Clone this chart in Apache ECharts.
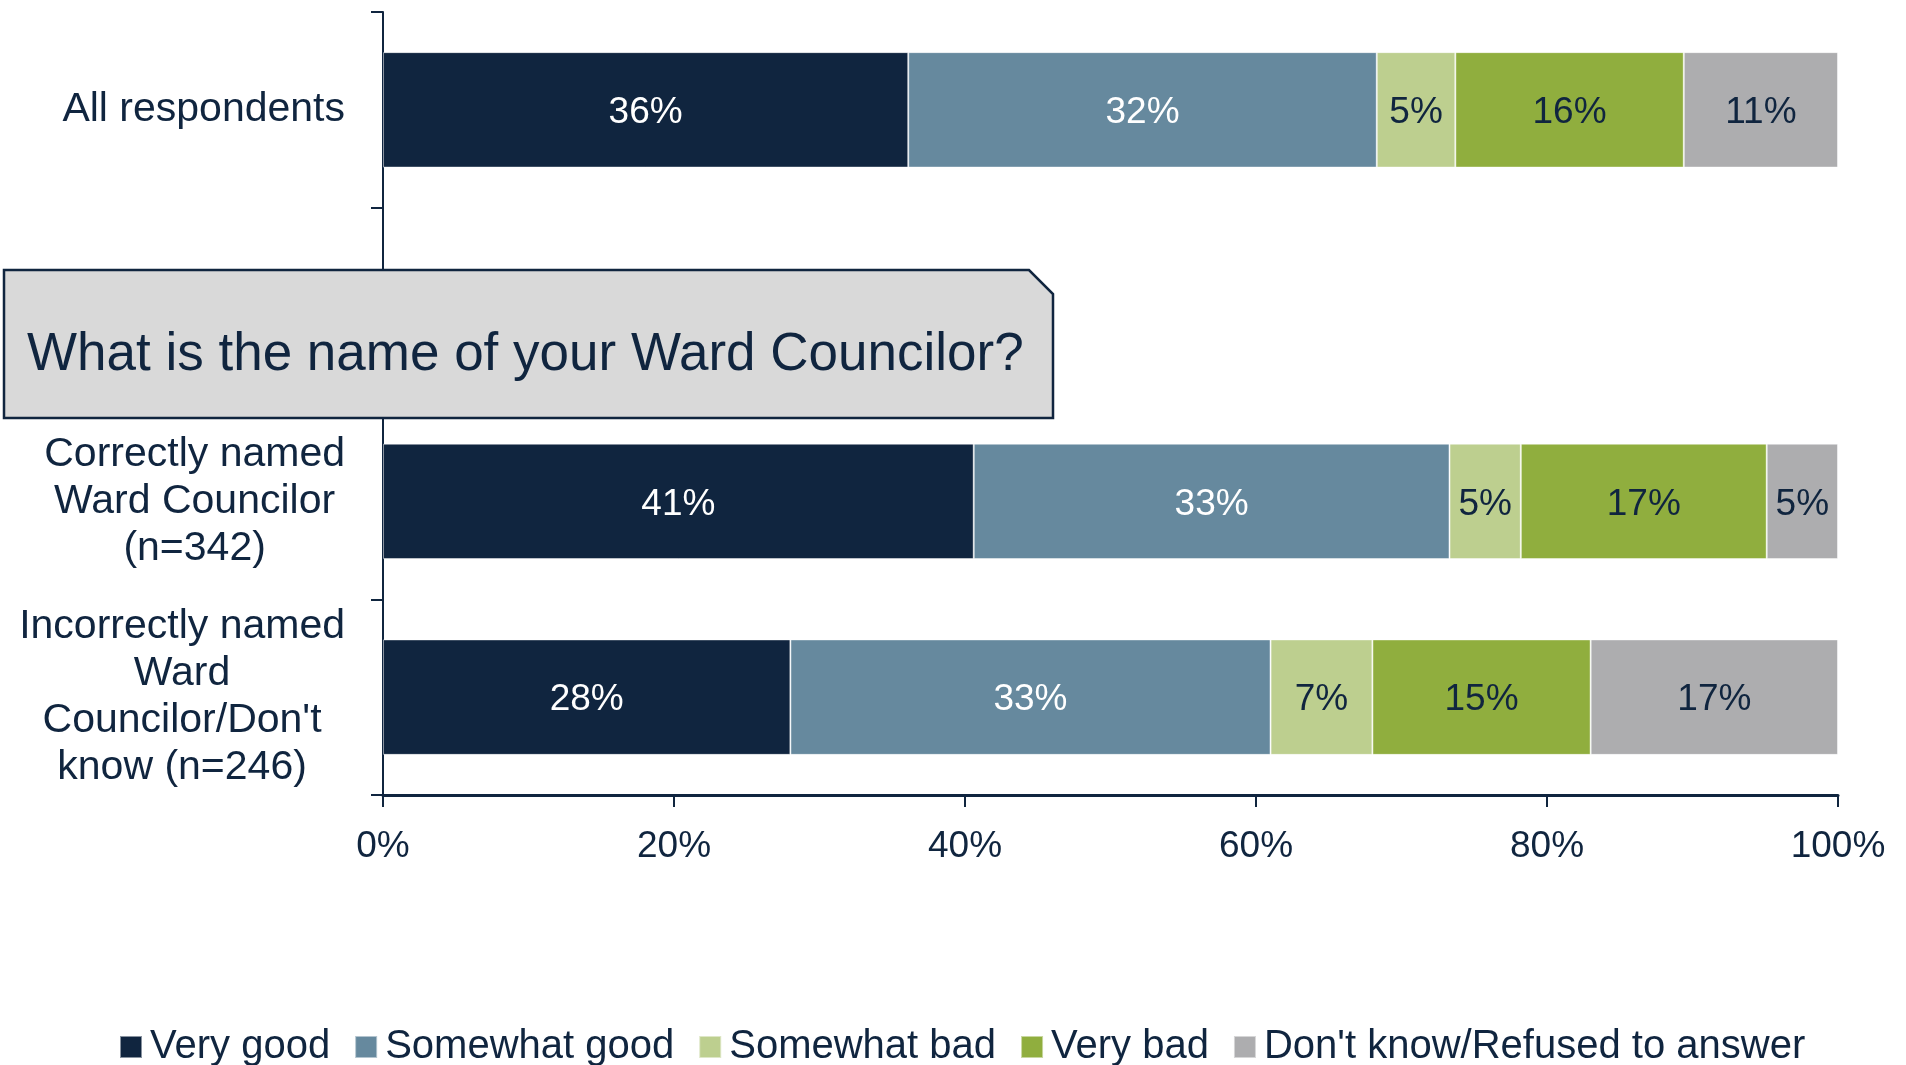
<!DOCTYPE html>
<html>
<head>
<meta charset="utf-8">
<script src="https://cdn.jsdelivr.net/npm/echarts@6/dist/echarts.min.js"></script>
<style>
html,body{margin:0;padding:0;background:#fff;}
#chart{width:1906px;height:1065px;}
</style>
</head>
<body>
<div id="chart"></div>
<script>
const categories = [
  'All respondents',
  '',
  'Correctly named\nWard Councilor\n(n=342)',
  "Incorrectly named\nWard\nCouncilor/Don't\nknow (n=246)"
];
const seriesNames = ['Very good', 'Somewhat good', 'Somewhat bad', 'Very bad', "Don't know/Refused to answer"];
const veryGood     = [36.1, '-', 40.6, 28.0];
const somewhatGood = [32.2, '-', 32.7, 33.0];
const somewhatBad  = [5.4,  '-', 4.9,  7.0];
const veryBad      = [15.7, '-', 16.9, 15.0];
const dontKnow     = [10.6, '-', 4.9,  17.0];
const xTicks = [0, 20, 40, 60, 80, 100];
const questionText = 'What is the name of your Ward Councilor?';

const NAVY = '#10253f';
const colors = ['#10253f', '#66899e', '#bdcf8f', '#90ae3e', '#adadaf'];
const labelColors = ['#ffffff', '#ffffff', NAVY, NAVY, NAVY];
const FONT = 'Liberation Sans';

const values = [veryGood, somewhatGood, somewhatBad, veryBad, dontKnow];

const chart = echarts.init(document.getElementById('chart'), null, {renderer: 'canvas'});
chart.setOption({
  animation: false,
  textStyle: {fontFamily: FONT, color: NAVY},
  grid: {left: 383, right: 68, top: 12, bottom: 270, containLabel: false},
  legend: {
    data: seriesNames,
    left: 114,
    top: 1022,
    icon: 'rect',
    itemWidth: 22,
    itemHeight: 22,
    itemGap: 24,
    textStyle: {fontFamily: FONT, fontSize: 40, color: NAVY, padding: [0, 0, 0, 3]}
  },
  xAxis: {
    type: 'value',
    min: xTicks[0],
    max: xTicks[xTicks.length - 1],
    interval: 20,
    axisLine: {show: true, lineStyle: {color: NAVY, width: 3}},
    axisTick: {show: true, length: 12, lineStyle: {color: NAVY, width: 2}},
    splitLine: {show: false},
    axisLabel: {
      formatter: '{value}%',
      fontFamily: FONT,
      fontSize: 37,
      color: NAVY,
      margin: 33
    }
  },
  yAxis: {
    type: 'category',
    inverse: true,
    data: categories,
    axisLine: {show: true, lineStyle: {color: NAVY, width: 2}},
    axisTick: {show: true, length: 12, lineStyle: {color: NAVY, width: 2}},
    axisLabel: {
      fontFamily: FONT,
      fontSize: 41,
      lineHeight: 47,
      color: NAVY,
      margin: 38,
      align: 'right',
      formatter: v => v ? v.split('\n').map(l => '{c|' + l + '}').join('\n') : '',
      rich: {
        c: {align: 'center', fontFamily: FONT, fontSize: 41, lineHeight: 47, color: NAVY}
      }
    }
  },
  series: seriesNames.map((name, i) => ({
    name: name,
    type: 'bar',
    stack: 'total',
    barWidth: '59%',
    data: values[i],
    itemStyle: {color: colors[i], borderColor: 'rgba(255,255,255,0.5)', borderWidth: 1},
    label: {
      show: true,
      position: 'inside',
      offset: [0, 3],
      formatter: p => Math.round(p.value) + '%',
      fontFamily: FONT,
      fontSize: 37,
      color: labelColors[i]
    }
  })),
  graphic: [
    {
      type: 'polygon',
      z: 100,
      shape: {points: [[4, 270], [1029, 270], [1053, 294], [1053, 418], [4, 418]]},
      style: {fill: '#d9d9d9', stroke: NAVY, lineWidth: 2.5}
    },
    {
      type: 'text',
      z: 101,
      x: 27,
      y: 355,
      style: {
        text: questionText,
        fontFamily: FONT,
        fontSize: 53,
        fill: NAVY,
        verticalAlign: 'middle',
        align: 'left'
      }
    }
  ]
});
</script>
</body>
</html>
